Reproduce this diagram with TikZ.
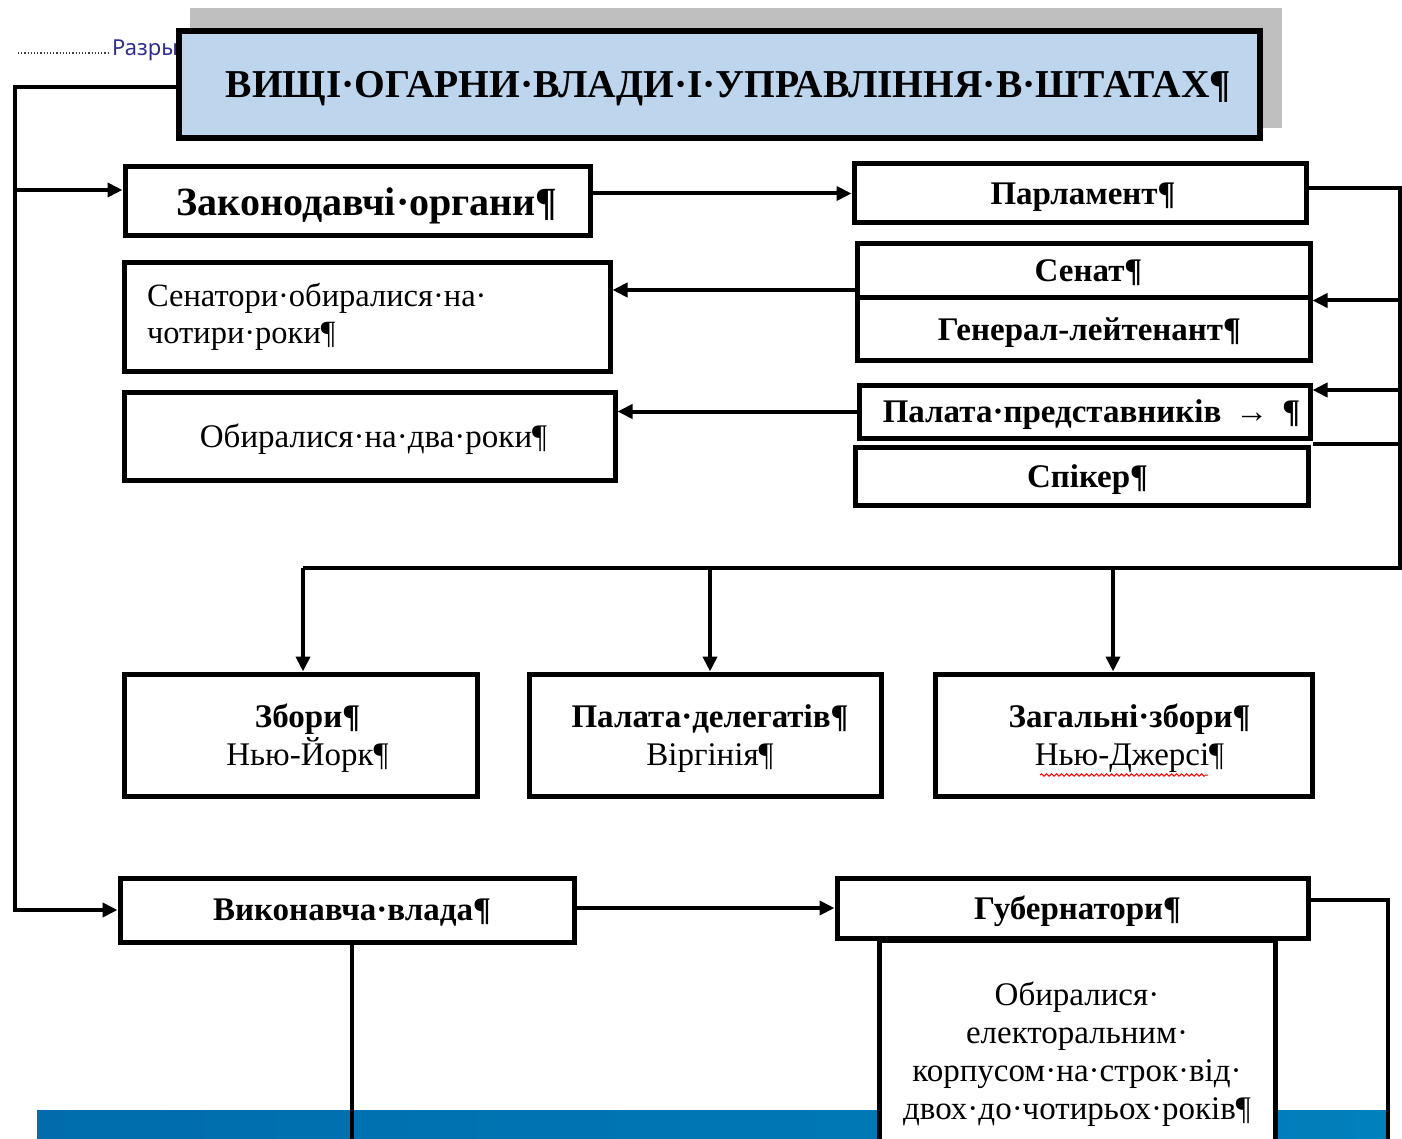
\documentclass[tikz,border=0pt]{standalone}
\usepackage{fontspec}
\setmainfont{Liberation Serif}
\newfontfamily\uisans{Noto Sans}
\usetikzlibrary{arrows.meta,decorations.pathmorphing}
\definecolor{titlefill}{RGB}{190,213,238}
\definecolor{shadowgray}{RGB}{191,191,191}
\definecolor{bandL}{RGB}{0,108,172}
\definecolor{bandR}{RGB}{0,128,188}
\definecolor{markblue}{RGB}{48,48,140}
\tikzset{
  box/.style={draw=black, line width=5pt, fill=white, inner sep=0pt, anchor=center, text depth=0pt},
  bigb/.style={font=\bfseries\fontsize{39.5}{46}\selectfont, align=center},
  zakb/.style={font=\bfseries\fontsize{40}{46}\selectfont, align=center},
  midb/.style={font=\bfseries\fontsize{33}{38}\selectfont, align=center},
  midr/.style={font=\fontsize{33}{38}\selectfont, align=center},
  conn/.style={line width=4pt, line join=miter},
  arr/.style={conn, -{Triangle[length=15pt,width=14pt]}},
}
\begin{document}
\begin{tikzpicture}[x=1pt,y=-1pt]
\clip (0,0) rectangle (1402,1139);
\fill[white] (0,0) rectangle (1402,1139);
% page break mark
\draw[dotted, line width=1.2pt, gray!50!black] (18,53) -- (110,53);
\node[font=\uisans\fontsize{22}{26}\selectfont, text=markblue, anchor=west, inner sep=0pt] (brk) at (112,50) {Разры};
% blue band
\shade[left color=bandL, right color=bandR] (37,1110) rectangle (1388,1150);
% title
\fill[shadowgray] (190,8) rectangle (1282,128);
\node[box, fill=titlefill, line width=6pt, minimum width=1081pt, minimum height=107pt, bigb] (title) at (719.5,84.5) {\hspace*{18pt}ВИЩІ·ОГАРНИ·ВЛАДИ·І·УПРАВЛІННЯ·В·ШТАТАХ¶};
% legislative
\node[box, zakb, minimum width=465pt, minimum height=69pt] (zak) at (357.5,201.5) {\hspace*{19pt}Законодавчі·органи¶};
\node[box, midb, minimum width=452pt, minimum height=59pt] (parl) at (1080,193.5) {\hspace*{6pt}Парламент¶};
\node[box, midb, minimum width=453pt, minimum height=54pt] (senat) at (1083.5,271) {\hspace*{10pt}Сенат¶};
\node[box, midb, minimum width=453pt, minimum height=62pt] (genlt) at (1083.5,329) {\hspace*{12pt}Генерал-лейтенант¶};
\node[box, midb, minimum width=451pt, minimum height=53pt] (palata) at (1084.5,411.5) {\hspace*{14pt}Палата·представників\hspace{14pt}→\hspace{14pt}¶};
\node[box, midb, minimum width=453pt, minimum height=58pt] (spiker) at (1081.5,476) {\hspace*{12pt}Спікер¶};
\node[box, text depth={}, font=\fontsize{32.5}{37.5}\selectfont, align=left, text width=440pt, minimum width=486pt, minimum height=108pt] (sen4) at (367,317) {Сенатори·обиралися·на·\\чотири·роки¶};
\node[box, midr, minimum width=491pt, minimum height=88pt] (dva) at (369.5,436) {\hspace*{8pt}Обиралися·на·два·роки¶};
% states
\node[box, midr, minimum width=353pt, minimum height=122pt] (zbory) at (300.5,735) {\hspace*{14pt}\textbf{Збори¶}\\\hspace*{14pt}Нью-Йорк¶};
\node[box, midr, minimum width=352pt, minimum height=122pt] (deleg) at (705,735) {\hspace*{10pt}\textbf{Палата·делегатів¶}\\\hspace*{10pt}Віргінія¶};
\node[box, midr, minimum width=377pt, minimum height=122pt] (zagal) at (1123.5,735) {\hspace*{12pt}\textbf{Загальні·збори¶}\\\hspace*{12pt}Нью-Джерсі¶};
\draw[red, line width=1pt, decorate, decoration={snake, amplitude=1.2pt, segment length=5pt}] (1040,775) -- (1208,775);
% executive
\node[box, midb, minimum width=454pt, minimum height=64pt] (vykon) at (347,910) {\hspace*{10pt}Виконавча·влада¶};
\node[box, midr, minimum width=396pt, minimum height=222pt] (obyr) at (1077,1051) {Обиралися·\\електоральним·\\корпусом·на·строк·від·\\двох·до·чотирьох·років¶};
\node[box, midb, minimum width=471pt, minimum height=60pt] (gub) at (1072.5,908) {\hspace*{10pt}Губернатори¶};
% coordinates
\coordinate (lft) at (15,0);
\coordinate (rt) at (1400,0);
\coordinate (busR) at (1400,568);
\coordinate (d1) at (303,568);
\coordinate (d2) at (710,568);
\coordinate (d3) at (1113,568);
\coordinate (tout) at ([yshift=-2.5pt]title.west);
\coordinate (zakin) at ([yshift=11.5pt]zak.west);
\coordinate (parlout) at ([yshift=5pt]parl.east);
\coordinate (palin) at ([yshift=21.5pt]palata.east);
\coordinate (palout) at ([yshift=-3pt]palata.south east);
\coordinate (senout) at ([yshift=-19pt]senat.west);
\coordinate (gubout) at ([yshift=8pt]gub.east);
\coordinate (gubend) at (1388,1150);
\coordinate (vykend) at (352,1150);
% connectors
\draw[arr] (tout) -| (lft |- vykon.west) -- (vykon.west);
\draw[arr] (lft |- zakin) -- (zakin);
\draw[arr] (zak.east |- parl.west) -- (parl.west);
\draw[conn] (parlout) -| (busR) -- (d1);
\draw[arr] (rt |- senat.south east) -- (senat.south east);
\draw[arr] (rt |- palin) -- (palin);
\draw[conn] (palout) -- (rt |- palout);
\draw[arr] (d1) -- (d1 |- zbory.north);
\draw[arr] (d2) -- (d2 |- deleg.north);
\draw[arr] (d3) -- (d3 |- zagal.north);
\draw[arr] (senout) -- (senout -| sen4.east);
\draw[arr] (palata.west) -- (palata.west -| dva.east);
\draw[arr] (vykon.east |- gub.west) -- (gub.west);
\draw[conn] (gubout) -| (gubend);
\draw[conn] (vykon.south -| vykend) -- (vykend);
\end{tikzpicture}
\end{document}
